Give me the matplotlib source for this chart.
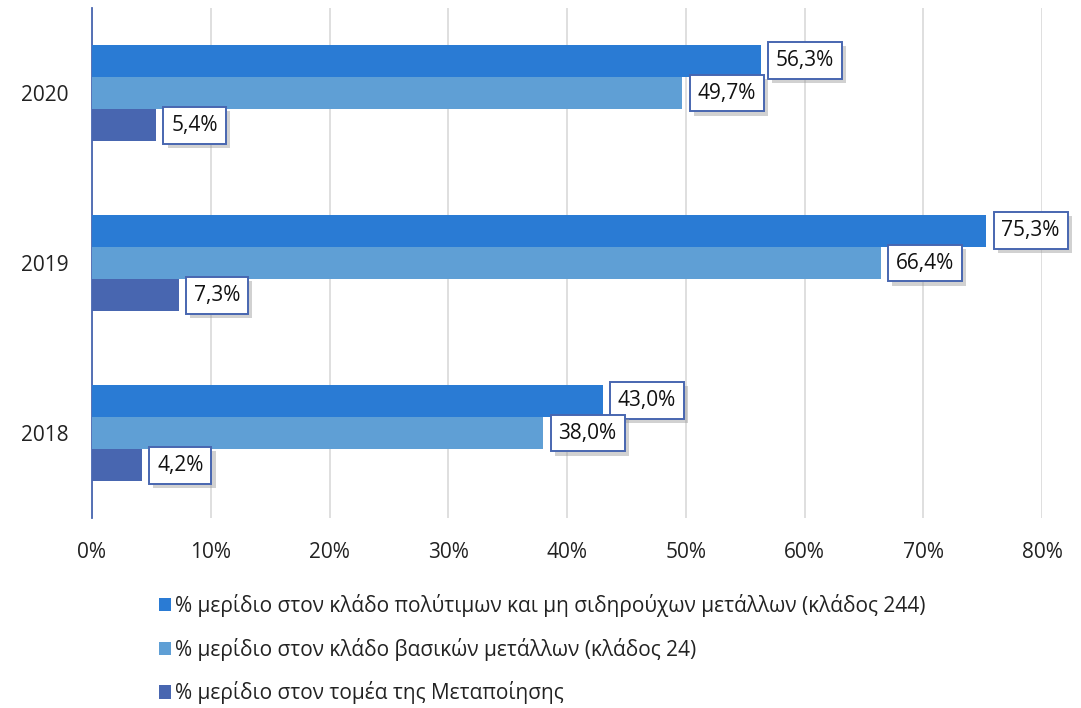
import matplotlib.pyplot as plt
import matplotlib.patheffects as pe
import numpy as np
from matplotlib.ticker import FuncFormatter

plt.rcParams['font.family'] = ['Open Sans', 'DejaVu Sans']

years = ['2018', '2019', '2020']
precious = [43.0, 75.3, 56.3]
basic = [38.0, 66.4, 49.7]
manuf = [4.2, 7.3, 5.4]
labels = ['% μερίδιο στον κλάδο πολύτιμων και μη σιδηρούχων μετάλλων (κλάδος 244)',
          '% μερίδιο στον κλάδο βασικών μετάλλων (κλάδος 24)',
          '% μερίδιο στον τομέα της Μεταποίησης']
colors = ['#2a7bd4', '#5f9fd5', '#4866b0']

fig = plt.figure(figsize=(10.81, 7.08), dpi=100)
ax = fig.add_axes([92 / 1081, 190 / 708, 950 / 1081, 510 / 708])

y = np.arange(len(years))
h = 0.19
series = [precious, basic, manuf]
offsets = [h, 0, -h]
shadow = [pe.withSimplePatchShadow(offset=(3, -3), shadow_rgbFace='#999999', alpha=0.45)]
for vals, off, c, lab in zip(series, offsets, colors, labels):
    ax.barh(y + off, vals, height=h, color=c, label=lab, zorder=3)
    for yi, v in zip(y, vals):
        txt = f'{v:.1f}%'.replace('.', ',')
        t = ax.annotate(txt, (v, yi + off), xytext=(11, 0), textcoords='offset points',
                        ha='left', va='center', fontsize=15, color='#111111', zorder=5,
                        bbox=dict(boxstyle='square,pad=0.38', fc='white', ec='#4866b0', lw=1.4))
        t.get_bbox_patch().set_path_effects(shadow)

ax.set_xlim(0, 80)
ax.set_ylim(-0.5, 2.5)
ax.set_xticks(np.arange(0, 81, 10))
ax.xaxis.set_major_formatter(FuncFormatter(lambda v, p: f'{v:.0f}%'))
ax.set_yticks(y)
ax.set_yticklabels(years)
ax.tick_params(length=0, labelsize=15, colors='#222222')
ax.tick_params(axis='x', pad=17)
ax.tick_params(axis='y', pad=17)
ax.grid(axis='x', color='#d9d9d9', lw=1.2, zorder=0)
for s in ['top', 'right', 'bottom']:
    ax.spines[s].set_visible(False)
ax.spines['left'].set_color('#4866b0')
ax.spines['left'].set_linewidth(1.3)

fig.legend(loc='upper left', bbox_to_anchor=(140 / 1081, 1 - 575 / 708), frameon=False,
           fontsize=15, handlelength=0.6, handleheight=0.6, handletextpad=0.2,
           labelspacing=1.0, labelcolor='#222222')

fig.savefig('out.png', dpi=100)
